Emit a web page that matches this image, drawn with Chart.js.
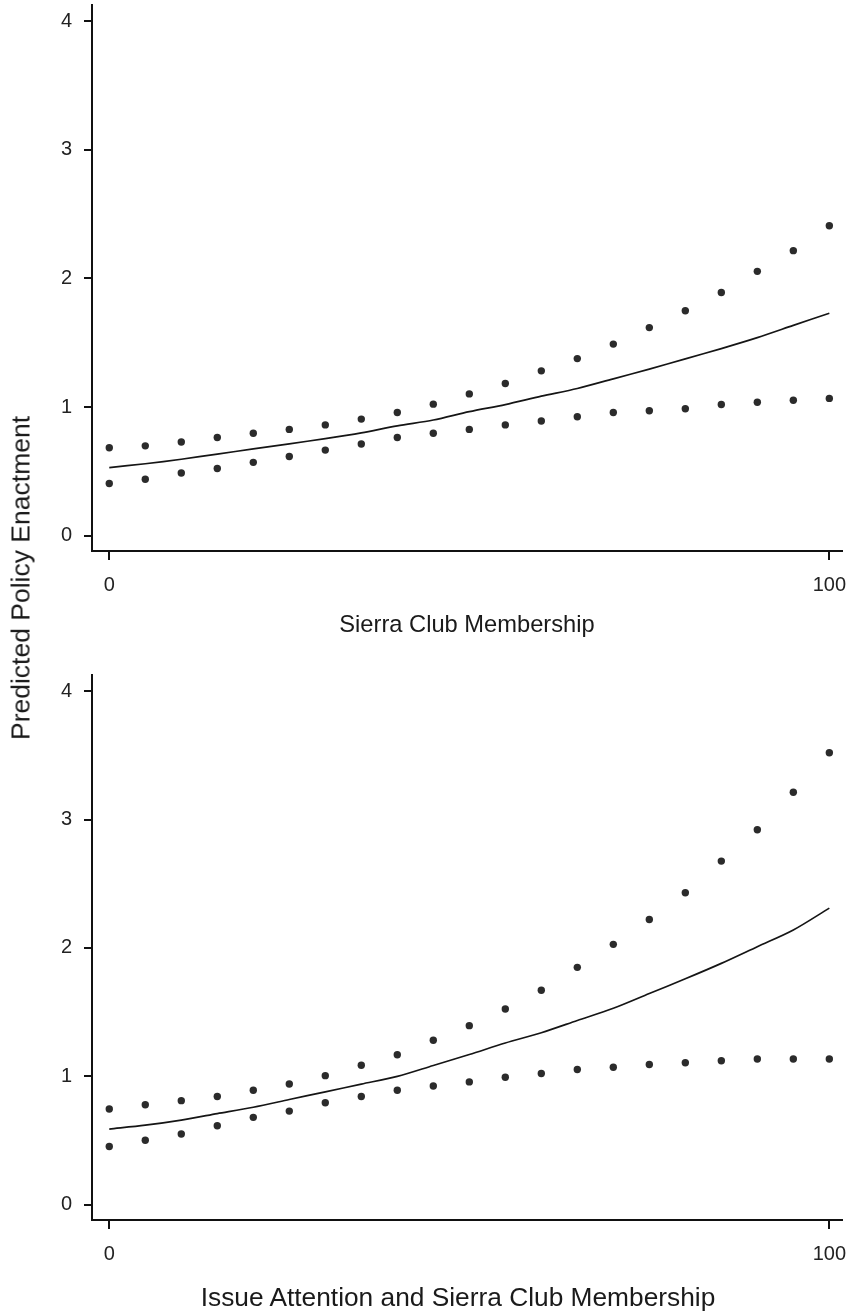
<!DOCTYPE html>
<html lang="en">
<head>
    <meta charset="UTF-8">
    <title>Predicted Policy Enactment</title>
    <script src="https://cdn.jsdelivr.net/npm/chart.js"></script>
    <style>
        body {
            margin: 0;
            background: #fff;
            font-family: "Liberation Sans", Arial, sans-serif;
        }
        #wrap {
            position: relative;
            width: 853px;
            height: 1312px;
        }
        canvas {
            position: absolute;
            left: 0;
        }
        #topChart { top: 0; }
        #bottomChart { top: 660px; }
        .label {
            position: absolute;
            color: #1a1a1a;
            white-space: nowrap;
            transform: translate(-50%, -50%);
        }
        #yTitle {
            left: 21px;
            top: 578px;
            font-size: 26.5px;
            transform: translate(-50%, -50%) rotate(-90deg);
        }
        #topTitle { left: 467px; top: 624px; font-size: 23.7px; }
        #bottomTitle { left: 458px; top: 1297px; font-size: 26.3px; }
    </style>
</head>
<body>

<div id="wrap">
    <canvas id="topChart" width="853" height="660"></canvas>
    <canvas id="bottomChart" width="853" height="652"></canvas>
    <div class="label" id="yTitle">Predicted Policy Enactment</div>
    <div class="label" id="topTitle">Sierra Club Membership</div>
    <div class="label" id="bottomTitle">Issue Attention and Sierra Club Membership</div>
</div>

<script>
    // x positions (Sierra Club membership / interaction, 0-100)
    const xValues = [0, 5, 10, 15, 20, 25, 30, 35, 40, 45, 50, 55, 60, 65, 70, 75, 80, 85, 90, 95, 100];
    const yTicks = [0, 1, 2, 3, 4];
    const xTicks = [0, 100];

    // top panel: Sierra Club Membership
    const topFit = [0.53, 0.56, 0.595, 0.635, 0.675, 0.715, 0.755, 0.80, 0.855, 0.90, 0.965, 1.02, 1.085, 1.145, 1.22, 1.295, 1.375, 1.455, 1.54, 1.635, 1.73];
    const topUpper = [0.684, 0.699, 0.729, 0.764, 0.797, 0.827, 0.862, 0.907, 0.958, 1.023, 1.103, 1.184, 1.282, 1.377, 1.49, 1.618, 1.749, 1.891, 2.055, 2.216, 2.409];
    const topLower = [0.407, 0.44, 0.488, 0.523, 0.571, 0.616, 0.666, 0.714, 0.764, 0.797, 0.827, 0.862, 0.892, 0.925, 0.958, 0.972, 0.987, 1.02, 1.038, 1.053, 1.068];

    // bottom panel: Issue Attention and Sierra Club Membership
    const bottomFit = [0.59, 0.62, 0.66, 0.71, 0.76, 0.82, 0.88, 0.94, 1.0, 1.085, 1.17, 1.26, 1.34, 1.435, 1.53, 1.645, 1.76, 1.88, 2.01, 2.14, 2.31];
    const bottomUpper = [0.746, 0.779, 0.811, 0.843, 0.892, 0.941, 1.006, 1.087, 1.168, 1.281, 1.395, 1.525, 1.671, 1.849, 2.028, 2.222, 2.43, 2.676, 2.92, 3.212, 3.52];
    const bottomLower = [0.454, 0.503, 0.552, 0.616, 0.681, 0.73, 0.795, 0.843, 0.892, 0.925, 0.957, 0.993, 1.022, 1.054, 1.071, 1.093, 1.106, 1.122, 1.135, 1.135, 1.135];

    const toPoints = ys => xValues.map((x, i) => ({ x: x, y: ys[i] }));

    function makeChart(id, fit, upper, lower, padTop, xAxisHeight) {
        const dots = {
            type: 'scatter',
            pointRadius: 3.7,
            pointBackgroundColor: '#2b2b2b',
            pointBorderWidth: 0,
            showLine: false
        };
        return new Chart(document.getElementById(id), {
            data: {
                datasets: [
                    {
                        type: 'line',
                        label: 'Predicted',
                        data: toPoints(fit),
                        borderColor: '#151515',
                        borderWidth: 1.7,
                        pointRadius: 0,
                        tension: 0.3,
                        fill: false
                    },
                    Object.assign({ label: 'Upper', data: toPoints(upper) }, dots),
                    Object.assign({ label: 'Lower', data: toPoints(lower) }, dots)
                ]
            },
            options: {
                responsive: false,
                animation: false,
                layout: { padding: { top: padTop, right: 11, left: 0, bottom: 0 } },
                plugins: { legend: { display: false }, tooltip: { enabled: false } },
                scales: {
                    x: {
                        type: 'linear',
                        min: -2.4,
                        max: 101.76,
                        afterBuildTicks: s => { s.ticks = xTicks.map(v => ({ value: v })); },
                        afterFit: s => {
                            s.height = xAxisHeight;
                            s.paddingLeft = 0;
                            s.paddingRight = 0;
                        },
                        border: { display: true, color: '#111', width: 2 },
                        grid: { drawOnChartArea: false, drawTicks: true, tickLength: 9, color: '#111', lineWidth: 2 },
                        ticks: {
                            autoSkip: false,
                            maxRotation: 0,
                            padding: 13,
                            color: '#222',
                            font: { family: "'Liberation Sans', Arial, sans-serif", size: 20 },
                            callback: v => String(v)
                        }
                    },
                    y: {
                        type: 'linear',
                        min: -0.118,
                        max: 4.125,
                        afterBuildTicks: s => { s.ticks = yTicks.map(v => ({ value: v })); },
                        afterFit: s => {
                            s.width = 92;
                            s.paddingTop = 0;
                            s.paddingBottom = 0;
                        },
                        border: { display: true, color: '#111', width: 2 },
                        grid: { drawOnChartArea: false, drawTicks: true, tickLength: 8, color: '#111', lineWidth: 2 },
                        ticks: {
                            autoSkip: false,
                            padding: 12,
                            color: '#222',
                            font: { family: "'Liberation Sans', Arial, sans-serif", size: 20 },
                            callback: v => String(v)
                        }
                    }
                }
            }
        });
    }

    makeChart('topChart', topFit, topUpper, topLower, 5, 109);
    makeChart('bottomChart', bottomFit, bottomUpper, bottomLower, 15, 92);
</script>

</body>
</html>
